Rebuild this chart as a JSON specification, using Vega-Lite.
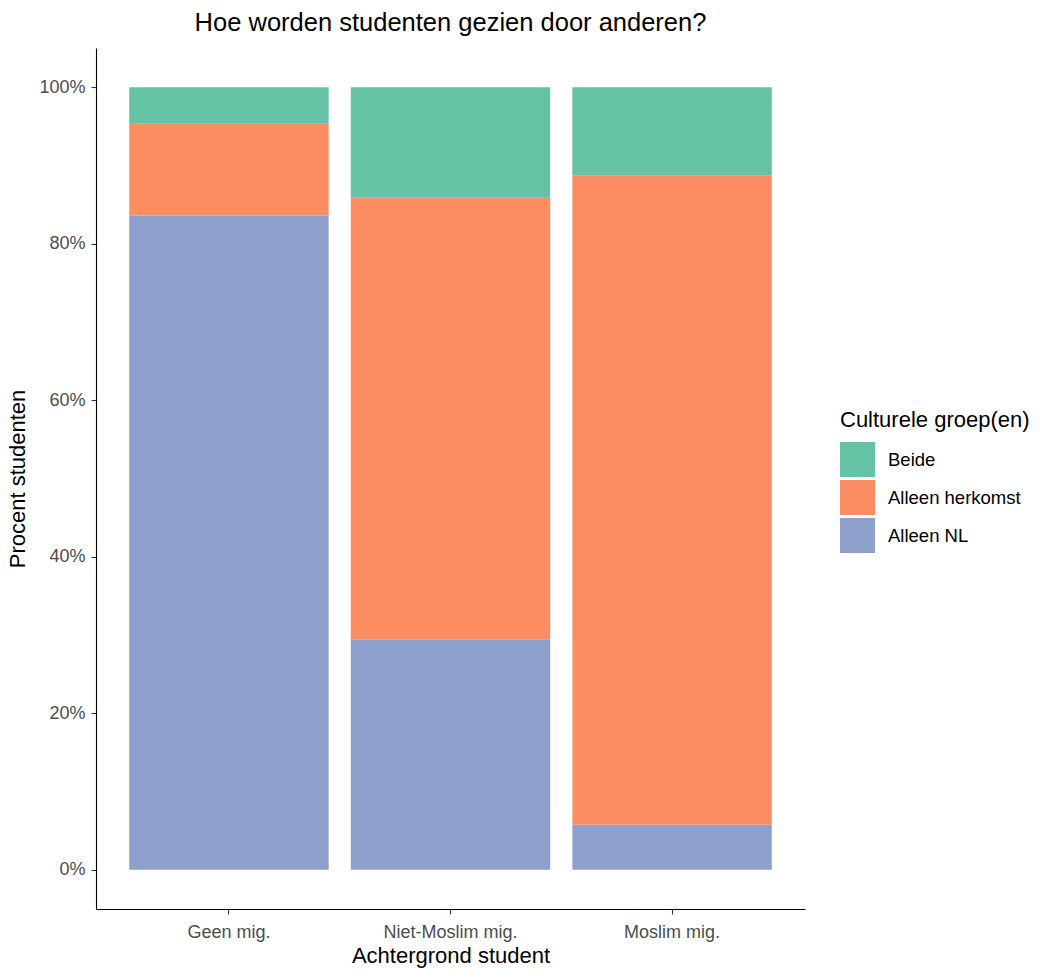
{
  "$schema": "https://vega.github.io/schema/vega-lite/v6.json",
  "width": 709,
  "height": 861,
  "autosize": {"type": "none"},
  "padding": {"left": 96, "top": 48, "right": 238, "bottom": 60},
  "background": "white",
  "config": {
    "view": {"stroke": null},
    "font": "Liberation Sans",
    "axis": {
      "grid": false,
      "domainColor": "black",
      "domainWidth": 1.1,
      "tickColor": "#333333",
      "tickSize": 5,
      "tickWidth": 1.1,
      "labelColor": "#4D4D4D",
      "labelFont": "Liberation Sans",
      "labelFontSize": 18,
      "titleFont": "Liberation Sans",
      "titleFontSize": 22,
      "titleFontWeight": "normal",
      "titleColor": "black"
    }
  },
  "title": {
    "text": "Hoe worden studenten gezien door anderen?",
    "font": "Liberation Sans",
    "fontSize": 25.5,
    "fontWeight": "normal",
    "color": "black",
    "anchor": "middle",
    "offset": 12
  },
  "data": {
    "values": [
      {"achtergrond": "Geen mig.", "groep": "Alleen NL", "aandeel": 0.8356},
      {"achtergrond": "Geen mig.", "groep": "Alleen herkomst", "aandeel": 0.1177},
      {"achtergrond": "Geen mig.", "groep": "Beide", "aandeel": 0.0467},
      {"achtergrond": "Niet-Moslim mig.", "groep": "Alleen NL", "aandeel": 0.2947},
      {"achtergrond": "Niet-Moslim mig.", "groep": "Alleen herkomst", "aandeel": 0.5639},
      {"achtergrond": "Niet-Moslim mig.", "groep": "Beide", "aandeel": 0.1414},
      {"achtergrond": "Moslim mig.", "groep": "Alleen NL", "aandeel": 0.0576},
      {"achtergrond": "Moslim mig.", "groep": "Alleen herkomst", "aandeel": 0.8292},
      {"achtergrond": "Moslim mig.", "groep": "Beide", "aandeel": 0.1132}
    ]
  },
  "mark": {"type": "bar"},
  "encoding": {
    "x": {
      "field": "achtergrond",
      "type": "nominal",
      "sort": ["Geen mig.", "Niet-Moslim mig.", "Moslim mig."],
      "scale": {"paddingInner": 0.1, "paddingOuter": 0.15},
      "axis": {
        "title": "Achtergrond student",
        "labelAngle": 0,
        "labelPadding": 9,
        "titlePadding": 4
      }
    },
    "y": {
      "field": "aandeel",
      "type": "quantitative",
      "stack": "zero",
      "scale": {"domain": [-0.05, 1.05], "nice": false, "zero": false},
      "axis": {
        "title": "Procent studenten",
        "values": [0, 0.2, 0.4, 0.6, 0.8, 1],
        "format": ".0%",
        "labelPadding": 6,
        "titlePadding": 9
      }
    },
    "color": {
      "field": "groep",
      "type": "nominal",
      "scale": {
        "domain": ["Beide", "Alleen herkomst", "Alleen NL"],
        "range": ["#66C2A5", "#FC8D62", "#8DA0CB"]
      },
      "legend": {
        "title": "Culturele groep(en)",
        "orient": "none",
        "legendX": 744,
        "legendY": 362,
        "padding": 0,
        "titleFont": "Liberation Sans",
        "titleFontSize": 22,
        "titleFontWeight": "normal",
        "titleColor": "black",
        "titlePadding": 10,
        "titleLimit": 400,
        "symbolType": "square",
        "symbolSize": 1225,
        "symbolStrokeWidth": 0,
        "symbolOpacity": 1,
        "rowPadding": 3,
        "labelFont": "Liberation Sans",
        "labelFontSize": 18.5,
        "labelColor": "black",
        "labelOffset": 13,
        "labelLimit": 300
      }
    },
    "order": {"field": "groep", "sort": "ascending"}
  }
}
